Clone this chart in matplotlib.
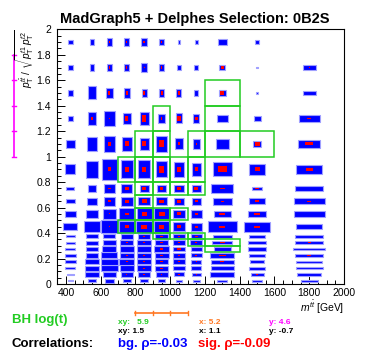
import matplotlib
matplotlib.use("Agg")
import matplotlib.pyplot as plt
from matplotlib.patches import Rectangle
from matplotlib.ticker import MultipleLocator, FuncFormatter
from matplotlib.transforms import blended_transform_factory

plt.rcParams['font.family'] = ['Liberation Sans', 'DejaVu Sans']
plt.rcParams['mathtext.fontset'] = 'custom'
plt.rcParams['mathtext.rm'] = 'Liberation Sans'
plt.rcParams['mathtext.it'] = 'Liberation Sans:italic'
plt.rcParams['mathtext.bf'] = 'Liberation Sans:bold'

# binning
x_edges = [350, 500, 600, 700, 800, 900, 1000, 1100, 1200, 1400, 1600, 2000]
y_edges = [0, 0.05, 0.1, 0.15, 0.2, 0.25, 0.3, 0.35, 0.4, 0.5, 0.6, 0.7,
           0.8, 1.0, 1.2, 1.4, 1.6, 1.8, 2.0]

# background box sizes (percent of bin), rows from bottom to top
bg = [
    [18, 42, 55, 45, 45, 42, 38, 38, 29, 27, 24],
    [28, 76, 72, 69, 72, 69, 62, 55, 69, 38, 35],
    [38, 76, 100, 84, 84, 76, 69, 57, 65, 46, 39],
    [43, 76, 100, 88, 80, 76, 72, 57, 65, 40, 37],
    [43, 72, 92, 84, 80, 80, 69, 65, 69, 46, 41],
    [38, 69, 80, 80, 80, 84, 72, 62, 50, 53, 46],
    [33, 65, 76, 76, 80, 76, 69, 69, 57, 51, 41],
    [33, 65, 69, 72, 72, 72, 65, 65, 53, 44, 40],
    [55, 90, 98, 95, 95, 88, 72, 65, 82, 76, 38],
    [40, 70, 72, 88, 86, 86, 65, 60, 50, 50, 45],
    [32, 58, 68, 68, 67, 62, 58, 53, 54, 46, 45],
    [31, 50, 66, 64, 50, 52, 53, 50, 64, 28, 40],
    [39, 68, 82, 71, 70, 63, 57, 50, 55, 46, 37],
    [34, 55, 60, 57, 50, 60, 43, 42, 38, 25, 32],
    [19, 50, 60, 45, 50, 36, 39, 36, 30, 20, 30],
    [20, 51, 40, 36, 29, 31, 28, 25, 20, 6, 19],
    [19, 25, 28, 28, 38, 26, 21, 21, 18, 6, 18],
    [17, 25, 30, 28, 35, 27, 15, 17, 25, 13, 0],
]

# signal box sizes (percent of bin), rows from bottom to top
sig = [
    [0, 0, 0, 5, 6, 6, 5, 0, 0, 0, 0],
    [0, 0, 0, 6, 10, 10, 10, 5, 0, 6, 0],
    [0, 0, 0, 12, 15, 15, 10, 8, 12, 0, 9],
    [0, 0, 0, 12, 15, 15, 15, 8, 12, 0, 3],
    [0, 0, 0, 10, 15, 20, 12, 10, 22, 0, 6],
    [0, 0, 0, 12, 15, 20, 20, 12, 6, 5, 0],
    [0, 0, 0, 10, 10, 15, 15, 10, 15, 0, 5],
    [0, 0, 0, 8, 15, 20, 15, 15, 5, 7, 2],
    [0, 0, 8, 20, 34, 30, 22, 15, 18, 17, 0],
    [0, 3, 8, 20, 28, 35, 24, 20, 17, 17, 6],
    [0, 0, 15, 22, 28, 25, 22, 18, 8, 12, 6],
    [0, 0, 15, 25, 20, 20, 25, 25, 14, 12, 0],
    [0, 4, 15, 20, 22, 30, 20, 15, 24, 15, 10],
    [0, 0, 18, 20, 20, 28, 12, 8, 2, 15, 12],
    [0, 12, 7, 18, 25, 10, 19, 15, 0, 0, 6],
    [0, 3, 12, 13, 12, 12, 12, 0, 12, 0, 0],
    [0, 0, 8, 8, 6, 8, 0, 0, 9, 0, 2],
    [0, 0, 7, 5, 10, 10, 0, 0, 0, 0, 0],
]

# bump-hunter selected bins: row index -> column indices
bh_cells = {
    15: [8],
    14: [5, 8],
    13: [4, 5, 7, 8, 9],
    12: [3, 4, 5, 6, 7],
    11: [4, 5, 6, 7],
    10: [4],
    9: [4, 5, 6],
    8: [3, 4, 5],
    7: [5, 6, 7],
    6: [7, 8],
    5: [8],
}

bh_x_range = [800, 900, 1000, 1100]
bh_y_range = [1.0, 1.2, 1.4, 1.6, 1.8]

W, H = 366, 355
fig = plt.figure(figsize=(W / 100, H / 100), dpi=100)
ax = fig.add_axes([57.3 / W, 1 - 284 / H, (344 - 57.3) / W, (284 - 29.3) / H])
ax.set_xlim(x_edges[0], x_edges[-1])
ax.set_ylim(y_edges[0], y_edges[-1])


def draw_box(ix, iy, frac, **kw):
    x0, x1 = x_edges[ix], x_edges[ix + 1]
    y0, y1 = y_edges[iy], y_edges[iy + 1]
    w = (x1 - x0) * frac
    h = (y1 - y0) * frac
    ax.add_patch(Rectangle(((x0 + x1) / 2 - w / 2, (y0 + y1) / 2 - h / 2),
                           w, h, **kw))


for iy, row in enumerate(bg):
    for ix, v in enumerate(row):
        if v > 0:
            draw_box(ix, iy, v / 100, facecolor='#0000ff',
                     edgecolor='#a0a0ff', lw=0.8, zorder=2)

for iy, row in enumerate(sig):
    for ix, v in enumerate(row):
        if v > 0:
            draw_box(ix, iy, v / 100, facecolor='#ff0000',
                     edgecolor='none', zorder=3)

for iy, cols in bh_cells.items():
    for ix in cols:
        ax.add_patch(Rectangle((x_edges[ix], y_edges[iy]),
                               x_edges[ix + 1] - x_edges[ix],
                               y_edges[iy + 1] - y_edges[iy],
                               facecolor='none', edgecolor='#22cc22',
                               lw=1.1, zorder=4))

ax.xaxis.set_major_locator(MultipleLocator(200))
ax.xaxis.set_minor_locator(MultipleLocator(50))
ax.yaxis.set_major_locator(MultipleLocator(0.2))
ax.yaxis.set_minor_locator(MultipleLocator(0.05))
ax.yaxis.set_major_formatter(FuncFormatter(lambda v, p: f'{v:g}'))
ax.tick_params(which='both', direction='in', top=False, right=False,
               width=0.7, labelsize=7.5)
ax.tick_params(which='major', length=5.5)
ax.tick_params(which='minor', length=3)
ax.tick_params(axis='y', pad=4.5)
ax.tick_params(axis='x', pad=3)
for s in ax.spines.values():
    s.set_linewidth(0.8)

fig.text(194.5 / W, 1 - 23.5 / H, 'MadGraph5 + Delphes Selection: 0B2S',
         ha='center', va='baseline', fontsize=10.5, fontweight='bold')
fig.text(25 / W, 1 - 29.3 / H,
         r'$p_{\rm T}^{t\bar{t}}\ /\ \sqrt{p_{\rm T}^{t1}\,p_{\rm T}^{t2}}$',
         rotation=90, ha='center', va='top', fontsize=7.3)
fig.text(344 / W, 1 - 311.5 / H, r'$m^{t\bar{t}}$ [GeV]',
         ha='right', va='baseline', fontsize=7.5)

# bump-hunter ranges
tr_y = blended_transform_factory(fig.transFigure, ax.transData)
mx = 14 / W
ax.plot([mx, mx], [bh_y_range[0], bh_y_range[-1]], color='#ff00ff', lw=1.2,
        transform=tr_y, clip_on=False)
for yv in bh_y_range:
    ax.plot([mx - 2 / W, mx + 2 / W], [yv, yv], color='#ff00ff', lw=1.0,
            transform=tr_y, clip_on=False)

tr_x = blended_transform_factory(ax.transData, fig.transFigure)
oy = 1 - 312.5 / H
ax.plot([bh_x_range[0], bh_x_range[-1]], [oy, oy], color='#ff7722', lw=1.2,
        transform=tr_x, clip_on=False)
for xv in bh_x_range:
    ax.plot([xv, xv], [oy - 2 / H, oy + 2 / H], color='#ff7722', lw=1.0,
            transform=tr_x, clip_on=False)

# bottom annotations
fig.text(11.7 / W, 1 - 322.5 / H, 'BH log(t)', color='#22cc22',
         fontsize=9.5, fontweight='bold', va='baseline')
fig.text(118 / W, 1 - 324 / H, 'xy:   5.9', color='#22cc22',
         fontsize=6, fontweight='bold', va='baseline')
fig.text(118 / W, 1 - 333 / H, 'xy: 1.5', color='black',
         fontsize=6, fontweight='bold', va='baseline')
fig.text(199 / W, 1 - 324 / H, 'x: 5.2', color='#ff7722',
         fontsize=6, fontweight='bold', va='baseline')
fig.text(199 / W, 1 - 333 / H, 'x: 1.1', color='black',
         fontsize=6, fontweight='bold', va='baseline')
fig.text(269 / W, 1 - 324 / H, 'y: 4.6', color='#ff00ff',
         fontsize=6, fontweight='bold', va='baseline')
fig.text(269 / W, 1 - 333 / H, 'y: -0.7', color='black',
         fontsize=6, fontweight='bold', va='baseline')
fig.text(11.7 / W, 1 - 346.7 / H, 'Correlations:', color='black',
         fontsize=9.5, fontweight='bold', va='baseline')
fig.text(118 / W, 1 - 346.7 / H, 'bg. ρ=-0.03', color='#0000ff',
         fontsize=9.5, fontweight='bold', va='baseline')
fig.text(198 / W, 1 - 346.7 / H, 'sig. ρ=-0.09', color='#ff0000',
         fontsize=9.5, fontweight='bold', va='baseline')

fig.savefig('out.png', dpi=100)
